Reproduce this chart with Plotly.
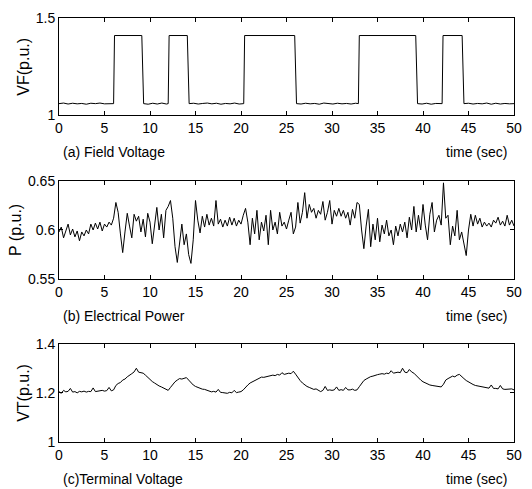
import numpy as np
import plotly.graph_objects as go
from plotly.subplots import make_subplots

# (a) field voltage: breakpoints of the switching signal
vf_time = [0.0, 0.5, 1.0, 1.5, 2.0, 2.5, 3.0, 3.5, 4.0, 4.5, 5.0, 5.5, 6.0,
           6.1, 9.1,
           9.3, 9.8, 10.3, 10.8, 11.3, 11.8, 12.0,
           12.1, 14.1,
           14.3, 14.8, 15.3, 15.8, 16.3, 16.8, 17.3, 17.8, 18.3, 18.8, 19.3, 19.8, 20.3,
           20.4, 25.9,
           26.1, 26.6, 27.1, 27.6, 28.1, 28.6, 29.1, 29.6, 30.1, 30.6, 31.1, 31.6, 32.1, 32.6, 32.9,
           33.0, 39.2,
           39.4, 39.9, 40.4, 40.9, 41.4, 41.9, 42.1,
           42.2, 44.3,
           44.5, 45.0, 45.5, 46.0, 46.5, 47.0, 47.5, 48.0, 48.5, 49.0, 49.5, 50.0]
vf = [1.060, 1.063, 1.058, 1.062, 1.059, 1.061, 1.057, 1.062, 1.060, 1.063, 1.059, 1.061, 1.060,
      1.41, 1.41,
      1.060, 1.057, 1.062, 1.058, 1.063, 1.058, 1.060,
      1.41, 1.41,
      1.060, 1.062, 1.058, 1.061, 1.063, 1.059, 1.062, 1.057, 1.061, 1.059, 1.063, 1.058, 1.060,
      1.41, 1.41,
      1.060, 1.058, 1.062, 1.059, 1.061, 1.057, 1.063, 1.060, 1.058, 1.062, 1.059, 1.061, 1.058, 1.062, 1.060,
      1.41, 1.41,
      1.060, 1.058, 1.062, 1.057, 1.061, 1.059, 1.060,
      1.41, 1.41,
      1.060, 1.062, 1.058, 1.061, 1.059, 1.063, 1.057, 1.062, 1.058, 1.061, 1.059, 1.060]

# (b) electrical power, sampled every 0.25 s (one row = one second)
p = [0.598, 0.603, 0.592, 0.600,
     0.606, 0.595, 0.601, 0.593,
     0.599, 0.589, 0.598, 0.594,
     0.600, 0.596, 0.606, 0.600,
     0.607, 0.601, 0.608, 0.599,
     0.606, 0.603, 0.608, 0.605,
     0.612, 0.628, 0.618, 0.596,
     0.577, 0.598, 0.617, 0.604,
     0.592, 0.616, 0.609, 0.614,
     0.598, 0.611, 0.593, 0.617,
     0.608, 0.586, 0.605, 0.623,
     0.600, 0.616, 0.592, 0.620,
     0.624, 0.630, 0.612, 0.583,
     0.567, 0.590, 0.606, 0.585,
     0.596, 0.575, 0.566, 0.590,
     0.630, 0.610, 0.597, 0.614,
     0.603, 0.616, 0.605, 0.612,
     0.604, 0.630, 0.606, 0.611,
     0.603, 0.610, 0.604, 0.613,
     0.605, 0.612, 0.604, 0.610,
     0.606, 0.615, 0.622, 0.608,
     0.585, 0.612, 0.596, 0.620,
     0.590, 0.608, 0.599, 0.615,
     0.585, 0.620, 0.600, 0.608,
     0.596, 0.618, 0.604, 0.608,
     0.601, 0.610, 0.618, 0.596,
     0.603, 0.628, 0.607, 0.618,
     0.638, 0.612, 0.626, 0.618,
     0.622, 0.612, 0.620, 0.616,
     0.629, 0.610, 0.618, 0.630,
     0.606, 0.620, 0.614, 0.622,
     0.614, 0.620, 0.612, 0.618,
     0.605, 0.621, 0.612, 0.628,
     0.626, 0.600, 0.581, 0.604,
     0.621, 0.583, 0.606, 0.590,
     0.612, 0.588, 0.605, 0.596,
     0.610, 0.594, 0.600, 0.585,
     0.604, 0.594, 0.606, 0.598,
     0.608, 0.592, 0.613, 0.600,
     0.624, 0.598, 0.615, 0.600,
     0.626, 0.605, 0.590, 0.616,
     0.628, 0.598, 0.610, 0.615,
     0.605, 0.648, 0.612, 0.615,
     0.585, 0.604, 0.594, 0.620,
     0.590, 0.598, 0.586, 0.574,
     0.600, 0.616, 0.604, 0.615,
     0.606, 0.612, 0.603, 0.608,
     0.604, 0.607, 0.603, 0.610,
     0.607, 0.613, 0.605, 0.609,
     0.604, 0.615, 0.605, 0.610,
     0.604]

# (c) terminal voltage, sampled every 0.25 s
vt = [1.205, 1.198, 1.210, 1.204,
      1.206, 1.218, 1.203, 1.205,
      1.200, 1.206, 1.204, 1.207,
      1.203, 1.206, 1.205, 1.220,
      1.205, 1.207, 1.206, 1.210,
      1.207, 1.209, 1.222, 1.208,
      1.212, 1.230, 1.238, 1.242,
      1.252, 1.256, 1.265, 1.270,
      1.278, 1.285, 1.300, 1.284,
      1.283, 1.280, 1.272, 1.262,
      1.255, 1.246, 1.240, 1.232,
      1.228, 1.224, 1.220, 1.215,
      1.210, 1.222, 1.236, 1.245,
      1.252, 1.258, 1.256, 1.258,
      1.262, 1.252, 1.240, 1.232,
      1.226, 1.222, 1.218, 1.215,
      1.214, 1.210, 1.206, 1.204,
      1.206, 1.203, 1.214, 1.202,
      1.201, 1.200, 1.198, 1.202,
      1.200, 1.210, 1.201, 1.203,
      1.205, 1.212, 1.220, 1.232,
      1.240, 1.245, 1.250, 1.256,
      1.258, 1.264, 1.263, 1.266,
      1.268, 1.270, 1.272, 1.270,
      1.275, 1.272, 1.282, 1.275,
      1.278, 1.280, 1.278, 1.288,
      1.276, 1.262, 1.250, 1.240,
      1.232, 1.226, 1.222, 1.218,
      1.214, 1.216, 1.210, 1.205,
      1.210, 1.226, 1.210, 1.212,
      1.210, 1.212, 1.224, 1.210,
      1.213, 1.210, 1.222, 1.212,
      1.212, 1.215, 1.210, 1.212,
      1.225, 1.240, 1.250, 1.256,
      1.262, 1.266, 1.268, 1.272,
      1.274, 1.276, 1.278, 1.276,
      1.280, 1.278, 1.290, 1.280,
      1.282, 1.284, 1.282, 1.300,
      1.284, 1.282, 1.295, 1.285,
      1.280, 1.270, 1.260, 1.252,
      1.245, 1.240, 1.235, 1.232,
      1.230, 1.228, 1.226, 1.225,
      1.224, 1.235, 1.252, 1.258,
      1.262, 1.268, 1.265, 1.272,
      1.275, 1.268, 1.258, 1.250,
      1.244, 1.238, 1.234, 1.230,
      1.228, 1.226, 1.222, 1.222,
      1.220, 1.219, 1.232, 1.218,
      1.218, 1.216, 1.230, 1.216,
      1.214, 1.215, 1.213, 1.216,
      1.212]

t = np.arange(len(p)) * 0.25
t_vt = np.arange(len(vt)) * 0.25

FONT = "Liberation Sans, Arial, sans-serif"

fig = make_subplots(rows=3, cols=1)
fig.add_trace(go.Scatter(x=vf_time, y=vf, mode='lines', line=dict(color='black', width=1)), row=1, col=1)
fig.add_trace(go.Scatter(x=t, y=p, mode='lines', line=dict(color='black', width=1)), row=2, col=1)
fig.add_trace(go.Scatter(x=t_vt, y=vt, mode='lines', line=dict(color='black', width=1)), row=3, col=1)

domains = [[0.7705, 1.0], [0.3841, 0.6159], [0.0, 0.2319]]
yranges = [[1, 1.5], [0.55, 0.65], [1, 1.4]]
yticks = [[1, 1.5], [0.55, 0.6, 0.65], [1, 1.2, 1.4]]
ytext = [['1', '1.5'], ['0.55', '0.6', '0.65'], ['1', '1.2', '1.4']]
ylabels = ['VF(p.u.)', 'P (p.u.)', 'VT(p.u.)']
ylabel_shift = [-35, -44, -35]
captions = ['(a) Field Voltage', '(b) Electrical Power', '(c)Terminal Voltage']

axis_style = dict(showline=True, linecolor='black', linewidth=1, mirror='ticks',
                  ticks='inside', ticklen=4, tickcolor='black', showgrid=False,
                  zeroline=False, tickfont=dict(family=FONT, size=14, color='black'))

for i in range(3):
    n = '' if i == 0 else str(i + 1)
    fig.layout['xaxis' + n].update(domain=[0, 1], range=[0, 50], tickvals=list(range(0, 51, 5)), **axis_style)
    fig.layout['yaxis' + n].update(domain=domains[i], range=yranges[i], tickvals=yticks[i],
                                   ticktext=ytext[i], **axis_style)
    fig.add_annotation(text=ylabels[i], xref='x' + n + ' domain', yref='y' + n + ' domain',
                       x=0, y=0.5, xanchor='center', yanchor='middle', xshift=ylabel_shift[i],
                       textangle=-90, showarrow=False,
                       font=dict(family=FONT, size=16, color='black'))
    fig.add_annotation(text=captions[i], xref='x' + n + ' domain', yref='y' + n + ' domain',
                       x=0, y=0, xanchor='left', yanchor='middle', xshift=2, yshift=-37,
                       showarrow=False, font=dict(family=FONT, size=14, color='black'))
    fig.add_annotation(text='time (sec)', xref='x' + n + ' domain', yref='y' + n + ' domain',
                       x=1, y=0, xanchor='right', yanchor='middle', xshift=-5, yshift=-37,
                       showarrow=False, font=dict(family=FONT, size=14, color='black'))

fig.update_layout(width=532, height=489, showlegend=False,
                  plot_bgcolor='white', paper_bgcolor='white',
                  margin=dict(l=59, r=10, t=15, b=47))

fig.write_html("out.html", config={'displayModeBar': False},
               post_script="document.body.style.margin='0px';")
